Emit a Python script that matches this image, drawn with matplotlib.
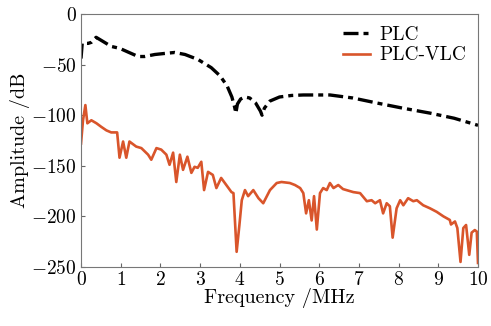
import matplotlib
matplotlib.use('Agg')
import matplotlib.pyplot as plt

plt.rcParams['font.family'] = 'serif'
plt.rcParams['font.serif'] = ['cmr10', 'DejaVu Serif']
plt.rcParams['mathtext.fontset'] = 'cm'
plt.rcParams['axes.formatter.use_mathtext'] = True

# PLC channel response
plc_f = [0.0, 0.03, 0.18, 0.26, 0.38, 0.55, 0.76, 0.98, 1.18, 1.44, 1.6, 1.86, 2.1,
         2.36, 2.62, 2.95, 3.28, 3.5, 3.68, 3.8, 3.87, 3.9, 3.94, 4.02, 4.13, 4.25,
         4.4, 4.52, 4.56, 4.62, 4.76, 5.0, 5.3, 5.6, 6.27, 6.85, 7.46, 8.1, 8.8, 9.4,
         10.0]
plc_db = [-44, -29, -29, -28, -23, -27, -32, -34, -37.5, -42, -42, -40, -39,
          -38, -40, -45, -53, -61, -71, -82, -92, -98, -89, -84, -82, -83,
          -88, -96, -100, -93, -86, -82, -80.5, -80, -80, -83, -88, -93, -98, -103,
          -110]

# PLC-VLC channel response
vlc_f = [0.0, 0.05, 0.11, 0.16, 0.26, 0.39, 0.51, 0.64, 0.76, 0.91, 0.97, 1.06, 1.14,
         1.22, 1.39, 1.52, 1.69, 1.77, 1.9, 2.02, 2.15, 2.23, 2.32, 2.4, 2.49, 2.57,
         2.68, 2.78, 2.86, 2.94, 3.03, 3.1, 3.2, 3.32, 3.41, 3.53, 3.66, 3.79, 3.84,
         3.92, 3.99, 4.05, 4.13, 4.21, 4.34, 4.47, 4.59, 4.76, 4.93, 5.05, 5.26, 5.39,
         5.52, 5.6, 5.67, 5.74, 5.81, 5.87, 5.94, 6.02, 6.1, 6.19, 6.27, 6.36, 6.48,
         6.6, 6.86, 7.03, 7.2, 7.32, 7.41, 7.53, 7.61, 7.7, 7.78, 7.85, 7.95, 8.04,
         8.12, 8.24, 8.37, 8.46, 8.62, 8.79, 8.96, 9.13, 9.29, 9.32, 9.42, 9.48, 9.56,
         9.63, 9.7, 9.78, 9.84, 9.92, 9.97, 10.0]
vlc_db = [-128, -105, -90, -108, -105, -108, -111.5, -115, -117, -117, -142, -126, -142,
          -126, -131, -132.5, -139, -144, -132.5, -134, -139, -149, -137, -166, -139, -154,
          -141, -157, -151, -152, -146, -174, -156, -159, -172, -162, -169, -176, -177,
          -235, -208.5, -184, -174, -180, -174, -182, -187, -174, -167, -166, -167, -169,
          -172, -177, -197, -184, -204, -180, -213, -177, -172, -174, -167, -172, -169,
          -173, -176, -177, -185, -184, -187, -184, -197, -187, -190, -221, -192, -184,
          -189, -182, -185, -184, -189, -192, -195.5, -200, -203.5, -208, -205, -211.5, -245,
          -211.5, -208.5, -238, -216, -213.5, -215, -246]

fig = plt.figure(figsize=(4.91, 3.26), dpi=100)
ax = fig.add_axes([0.165, 0.181, 0.8085, 0.776])

ax.plot(plc_f, plc_db, color='black', lw=2.4, dashes=[4.5, 1.5, 1.5, 1.5], label='PLC')
ax.plot(vlc_f, vlc_db, color='#d9552b', lw=1.9, label='PLC-VLC')

ax.set_xlim(0, 10)
ax.set_ylim(-250, 0)
ax.set_xticks(range(0, 11))
ax.set_yticks(range(-250, 1, 50))
ax.tick_params(direction='in', labelsize=14, length=3, color='#666666', pad=3)
for s in ax.spines.values():
    s.set_color('#777777')
ax.set_xlabel('Frequency /MHz', fontsize=14.5, labelpad=-1)
ax.set_ylabel('Amplitude /dB', fontsize=14.5, labelpad=1)

ax.legend(loc='upper right', frameon=False, fontsize=14, handlelength=1.4,
          handletextpad=0.5, labelspacing=0.15, borderaxespad=0.2)

fig.savefig('out.png', dpi=100)
